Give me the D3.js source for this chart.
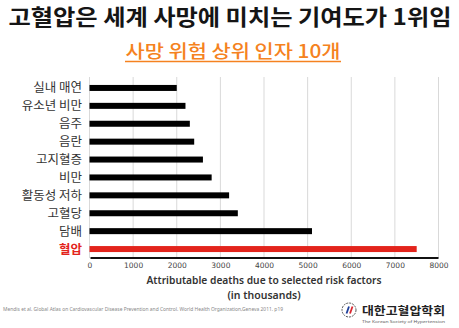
<!DOCTYPE html>
<html><head><meta charset="utf-8">
<script src="https://cdn.jsdelivr.net/npm/d3@7"></script>
<style>body{margin:0;background:#fff}svg{display:block}</style>
</head><body>
<svg id="c" width="459" height="328"></svg>
<script>
const categories = ["실내 매연","유소년 비만","음주","음란","고지혈증","비만","활동성 저하","고혈당","담배","혈압"];
const values = [2000,2200,2300,2400,2600,2800,3200,3400,5100,7500];
const tickValues = [0,1000,2000,3000,4000,5000,6000,7000,8000];
const title = "고혈압은 세계 사망에 미치는 기여도가 1위임";
const subtitle = "사망 위험 상위 인자 10개";
const xTitle = ["Attributable deaths due to selected risk factors","(in thousands)"];
const source = "Mendis et al. Global Atlas on Cardiovascular Disease Prevention and Control. World Health Organization,Geneva 2011. p19";

const svg = d3.select("#c");
const KR = "'Noto Sans CJK KR','Noto Sans',sans-serif";
const x = d3.scaleLinear().domain([0,8000]).range([89.5,438.5]);
const y = d3.scaleBand().domain(categories).range([79,258]).paddingInner(0.66).paddingOuter(0.33);

svg.append("text").attr("x",230).attr("y",25).attr("text-anchor","middle")
  .attr("font-family",KR).attr("font-weight",700).attr("font-size",22).attr("fill","#151515")
  .attr("textLength",443).attr("lengthAdjust","spacingAndGlyphs").text(title);
svg.append("text").attr("x",233).attr("y",58).attr("text-anchor","middle")
  .attr("font-family",KR).attr("font-weight",500).attr("font-size",18).attr("fill","#f58220")
  .attr("textLength",215).attr("lengthAdjust","spacingAndGlyphs").text(subtitle);
svg.append("line").attr("x1",125).attr("x2",341).attr("y1",61.5).attr("y2",61.5)
  .attr("stroke","#f58220").attr("stroke-width",1.3);

// grid
svg.append("g").selectAll("line").data(tickValues).join("line")
  .attr("x1",d=>x(d)).attr("x2",d=>x(d)).attr("y1",77).attr("y2",258)
  .attr("stroke","#d9d9d9").attr("stroke-width",1);

// bars
svg.append("g").selectAll("rect").data(categories).join("rect")
  .attr("x",x(0)).attr("y",(d,i)=>y(d)+y.bandwidth()/2-3)
  .attr("width",(d,i)=>x(values[i])-x(0)).attr("height",6)
  .attr("fill",(d,i)=>i===categories.length-1?"#e3241c":"#000");

// y labels
svg.append("g").selectAll("text").data(categories).join("text")
  .attr("x",82).attr("y",d=>y(d)+y.bandwidth()/2).attr("dy","0.36em")
  .attr("text-anchor","end").attr("font-family",KR).attr("font-size",12.5)
  .attr("font-weight",(d,i)=>i===categories.length-1?700:400)
  .attr("fill",(d,i)=>i===categories.length-1?"#e3241c":"#333").text(d=>d);

// x axis
const ax = svg.append("g").attr("transform","translate(0,258)")
  .call(d3.axisBottom(x).tickValues(tickValues).tickSize(0).tickPadding(5).tickFormat(d3.format("d")));
ax.select(".domain").attr("stroke","#111").attr("stroke-width",2).attr("d",`M${x(0)+1},0H${x(8000)}`);
ax.selectAll("text").attr("font-family","'DejaVu Sans',sans-serif").attr("font-size",7.5).attr("fill","#444");

svg.append("text").attr("x",264).attr("y",284).attr("text-anchor","middle")
  .attr("font-family","'Noto Sans',sans-serif").attr("font-weight",600).attr("font-size",10.5).attr("fill","#333")
  .attr("textLength",235).attr("lengthAdjust","spacingAndGlyphs").text(xTitle[0]);
svg.append("text").attr("x",264).attr("y",299).attr("text-anchor","middle")
  .attr("font-family","'Noto Sans',sans-serif").attr("font-weight",600).attr("font-size",10.5).attr("fill","#333")
  .text(xTitle[1]);

svg.append("text").attr("x",3).attr("y",311).attr("font-family","'Noto Sans',sans-serif")
  .attr("font-size",4.6).attr("fill","#888").attr("textLength",280).attr("lengthAdjust","spacingAndGlyphs").text(source);

// logo
const lg = svg.append("g").attr("transform","translate(349,310)");
lg.append("circle").attr("r",7).attr("fill","none").attr("stroke","#555").attr("stroke-width",1).attr("stroke-dasharray","2,1");
lg.append("line").attr("x1",-2.5).attr("y1",3.5).attr("x2",0).attr("y2",-3.5).attr("stroke","#1d3f9a").attr("stroke-width",1.8);
lg.append("line").attr("x1",1).attr("y1",3.5).attr("x2",3.5).attr("y2",-3.5).attr("stroke","#d8262e").attr("stroke-width",1.8);
svg.append("text").attr("x",362).attr("y",315).attr("font-family",KR).attr("font-weight",700)
  .attr("font-size",11.5).attr("fill","#222").attr("textLength",83).attr("lengthAdjust","spacingAndGlyphs").text("대한고혈압학회");
svg.append("text").attr("x",362).attr("y",322.5).attr("font-family","'Noto Sans',sans-serif")
  .attr("font-size",3.6).attr("fill","#555").attr("textLength",83).attr("lengthAdjust","spacingAndGlyphs").text("The Korean Society of Hypertension");
</script>
</body></html>
